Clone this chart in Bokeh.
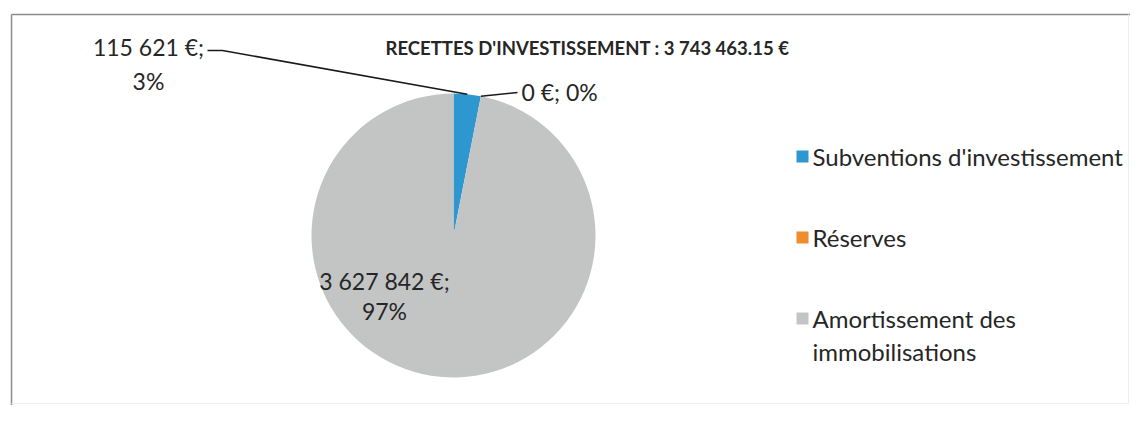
import numpy as np
from bokeh.plotting import figure
from bokeh.models import Range1d, ColumnDataSource
from bokeh.core.properties import value
from bokeh.embed import file_html
from bokeh.resources import INLINE

# ---- data ----
categories = ["Subventions d'investissement", "Réserves", "Amortissement des immobilisations"]
amounts = [115621, 0, 3627842]
colors = ["#2F97CF", "#EF8C2C", "#C3C5C5"]
title_text = "RECETTES D'INVESTISSEMENT : 3 743 463.15 €"
legend_lines = [["Subventions d'investissement"], ["Réserves"], ["Amortissement des", "immobilisations"]]

# ---- layout (pixel coordinates of the picture) ----
W, H = 1130, 405
def Y(v):
    return H - np.asarray(v, dtype=float)

CX, CY, R = 453, 235, 142
FONT = "Lato"
TXT = "#262626"

p = figure(width=W, height=H, x_range=Range1d(0, W), y_range=Range1d(0, H),
           output_backend="svg", toolbar_location=None, min_border=0,
           outline_line_color=None, x_axis_location=None, y_axis_location=None,
           background_fill_color="white", border_fill_color="white")
p.grid.visible = False

# chart frame
p.line([11, W], [float(Y(14)), float(Y(14))], line_color="#8C8C8C", line_width=1.5)
p.line([11, 11], [float(Y(14)), float(Y(H))], line_color="#8C8C8C", line_width=1.5)
p.line([1128, 1128], [float(Y(14)), float(Y(403))], line_color="#EDEDED", line_width=1)
p.line([11, 1128], [float(Y(403)), float(Y(403))], line_color="#EDEDED", line_width=1)

# pie wedges, clockwise from 12 o'clock
vals = np.array(amounts, dtype=float)
frac = vals / vals.sum()
cum = np.cumsum(frac)
prev = np.concatenate([[0.0], cum[:-1]])
a_start = np.pi / 2 - 2 * np.pi * prev
a_end = np.pi / 2 - 2 * np.pi * cum
nz = frac > 0
src = ColumnDataSource(dict(start=a_end[nz], end=a_start[nz],
                            color=[c for c, k in zip(colors, nz) if k],
                            name=[c for c, k in zip(categories, nz) if k]))
p.wedge(x=CX, y=float(Y(CY)), radius=R, start_angle="start", end_angle="end",
        direction="anticlock", fill_color="color", line_color=None, source=src)

mid = (a_start + a_end) / 2
px = CX + R * np.cos(mid)
py = float(Y(CY)) + R * np.sin(mid)

def money(v):
    return f"{int(v):,}".replace(",", " ") + " €;"

pct = [f"{round(f * 100)}%" for f in frac]

# leader lines
p.line([px[0], 222, 207], [py[0], float(Y(50)), float(Y(50))], line_color="#1A1A1A", line_width=1.5)
p.line([px[1], 517], [py[1], float(Y(92))], line_color="#1A1A1A", line_width=1.5)

# data labels
lab_x = [148, 148, 521, 384, 384]
lab_y = Y([46, 80, 91, 280, 310])
lab_t = [money(vals[0]), pct[0], money(vals[1]) + " " + pct[1], money(vals[2]), pct[2]]
lab_a = ["center", "center", "left", "center", "center"]
p.text(x=lab_x, y=lab_y, text=lab_t, text_align=lab_a, text_baseline="middle",
       text_font=value(FONT), text_font_size="23px", text_color=TXT)

# title
p.text(x=[587], y=Y([47]), text=[title_text], text_align="center", text_baseline="middle",
       text_font=value(FONT), text_font_size="18.5px", text_font_style="bold", text_color=TXT)

# legend
leg_y = [156, 237, 318]
p.scatter(x=[802] * 3, y=Y(leg_y), marker="square", size=12, fill_color=colors, line_color=None)
lt, ly = [], []
for lines, y0 in zip(legend_lines, leg_y):
    for k, s in enumerate(lines):
        lt.append(s)
        ly.append(y0 + 33 * k)
p.text(x=[812] * len(lt), y=Y(ly), text=lt, text_align="left", text_baseline="middle",
       text_font=value(FONT), text_font_size="24px", text_color=TXT)

open("out.html", "w").write(file_html(p, INLINE))
